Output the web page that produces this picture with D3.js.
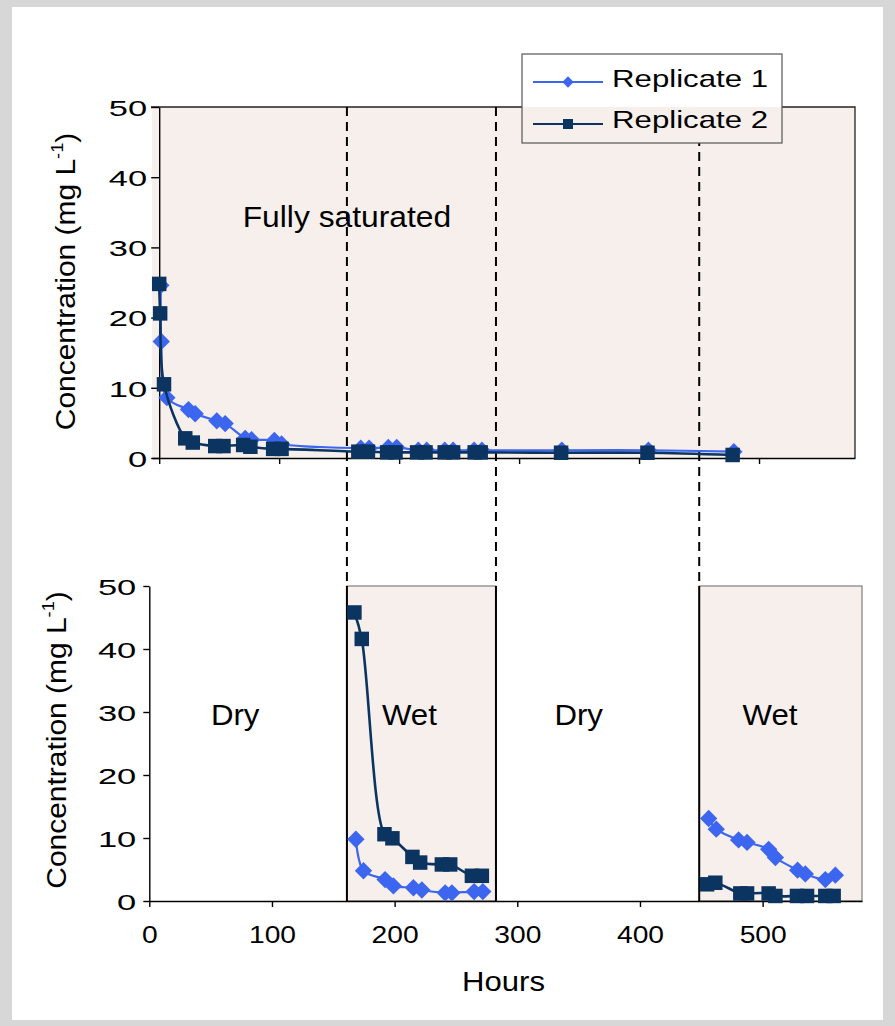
<!DOCTYPE html>
<html><head><meta charset="utf-8">
<script src="https://cdn.jsdelivr.net/npm/d3@7"></script>
<style>
html,body{margin:0;padding:0;background:#fff;}
text{font-family:"Liberation Sans",Arial,sans-serif;fill:#000;}
</style></head>
<body><svg id="c" width="895" height="1026"></svg>
<script>
// ---------- DATA ----------
const seriesNames = ["Replicate 1", "Replicate 2"];
const xTickValues = [0, 100, 200, 300, 400, 500];
const yTickValues = [0, 10, 20, 30, 40, 50];
const periodBounds = [161.1, 282.6, 448.3];     // hours: wet start, dry start, wet start
const periodLabels = ["Dry", "Wet", "Dry", "Wet"];
const periodLabelHours = [70, 212, 350, 506];
const topLabel = "Fully saturated";

// Top panel (fully saturated)
const topRep1Hours = [1.4, 1.7, 6.4, 24.4, 30, 48, 55, 71.7, 77, 96, 102, 168, 175, 191, 198, 216, 223, 238, 245, 262.5, 269, 335.6, 407.8, 479];
const topRep1Conc  = [24.6, 16.6, 8.6, 6.9, 6.3, 5.3, 4.9, 2.8, 2.6, 2.5, 2.0, 1.4, 1.4, 1.5, 1.5, 1.1, 1.1, 1.1, 1.1, 1.1, 1.1, 1.1, 1.1, 0.9];
const topRep2Hours = [0, 0.8, 4, 21.7, 28, 46.7, 53.6, 70, 76, 95, 102, 166, 174, 190, 197, 215, 222, 238, 245, 263, 268, 335, 407, 478];
const topRep2Conc  = [24.8, 20.6, 10.5, 2.8, 2.2, 1.7, 1.7, 1.85, 1.6, 1.3, 1.3, 0.9, 0.9, 0.8, 0.8, 0.8, 0.8, 0.8, 0.8, 0.8, 0.8, 0.75, 0.75, 0.43];

// Bottom panel, first wet period
const wet1Rep1Hours = [168.4, 174.6, 192.2, 199, 215.3, 222.2, 241.2, 246.7, 264.8, 271.9];
const wet1Rep1Conc  = [9.8, 4.8, 3.4, 2.4, 2.1, 1.75, 1.3, 1.3, 1.5, 1.5];
const wet1Rep2Hours = [167.2, 173.2, 191.7, 198.2, 214.5, 220.8, 238.5, 245.3, 263, 271.1];
const wet1Rep2Conc  = [45.8, 41.6, 10.6, 9.95, 7.0, 6.1, 5.8, 5.8, 4.0, 4.0];
// Bottom panel, second wet period
const wet2Rep1Hours = [456, 462.2, 480.4, 487.3, 504.9, 510.4, 528.5, 534.8, 551.1, 559.3];
const wet2Rep1Conc  = [13.1, 11.4, 9.7, 9.3, 8.2, 6.9, 4.9, 4.3, 3.4, 4.1];
const wet2Rep2Hours = [454.7, 461.4, 481.8, 487.3, 504.9, 510.4, 528, 536.2, 551.1, 557.9];
const wet2Rep2Conc  = [2.65, 2.9, 1.2, 1.2, 1.2, 0.8, 0.8, 0.8, 0.8, 0.8];

// ---------- STYLE ----------
const C1 = "#3d66f0", C2 = "#0c3461", PINK = "#f6efec";
const svg = d3.select("#c");

// textured frame
svg.append("rect").attr("width", 895).attr("height", 1026).attr("fill", "#d8d7d7");
svg.append("rect").attr("x", 12).attr("y", 7).attr("width", 871).attr("height", 1013).attr("fill", "#fff");

function stext(g, x, y, txt, fs, sx, anchor) {
  return g.append("text")
    .attr("transform", `translate(${x},${y}) scale(${sx},1)`)
    .attr("text-anchor", anchor || "middle")
    .style("font-size", fs + "px").text(txt);
}
const zip = (a, b) => a.map((d, i) => [d, b[i]]);

// ---------- SCALES ----------
const xTop = d3.scaleLinear().domain([-6, 580]).range([152, 855]);
const yTop = d3.scaleLinear().domain([0, 50]).range([458, 107]);
const xBot = d3.scaleLinear().domain([0, 581]).range([149.3, 862]);
const yBot = d3.scaleLinear().domain([0, 50]).range([901, 586]);

const curve = d3.curveCatmullRom.alpha(0.5);

// ---------- TOP PANEL ----------
svg.append("rect")
  .attr("x", xTop(-6)).attr("y", yTop(50))
  .attr("width", xTop(580) - xTop(-6)).attr("height", yTop(0) - yTop(50))
  .attr("fill", PINK);
svg.append("path")
  .attr("d", `M${xTop(-6) - 1},${yTop(50)}H${xTop(580)}V${yTop(0)}`)
  .attr("fill", "none").attr("stroke", "#222").attr("stroke-width", 1.3);

// ---------- BOTTOM PANEL background ----------
const wetRanges = [[periodBounds[0], periodBounds[1]], [periodBounds[2], 581]];
svg.selectAll(".wet").data(wetRanges).enter().append("rect")
  .attr("x", d => xBot(d[0])).attr("y", yBot(50))
  .attr("width", d => xBot(d[1]) - xBot(d[0])).attr("height", yBot(0) - yBot(50))
  .attr("fill", PINK).attr("stroke", "#666").attr("stroke-width", 1);

// dashed connectors
svg.selectAll(".dash").data(periodBounds).enter().append("line")
  .attr("x1", d => xBot(d)).attr("x2", d => xBot(d))
  .attr("y1", yTop(50)).attr("y2", yBot(50))
  .attr("stroke", "#000").attr("stroke-width", 2).attr("stroke-dasharray", "9,6");
// solid period boundaries in bottom panel
svg.selectAll(".solid").data(periodBounds).enter().append("line")
  .attr("x1", d => xBot(d)).attr("x2", d => xBot(d))
  .attr("y1", yBot(50)).attr("y2", yBot(0))
  .attr("stroke", "#000").attr("stroke-width", 2);

// ---------- AXES ----------
function styleAxis(g) {
  g.selectAll("path,line").attr("stroke", "#000").attr("stroke-width", 1.4);
  g.selectAll("text").style("font-family", '"Liberation Sans",Arial,sans-serif').attr("fill", "#000");
}
// top x axis (no labels)
const gxT = svg.append("g").attr("transform", `translate(0,${yTop(0)})`)
  .call(d3.axisBottom(xTop).tickValues(xTickValues).tickSize(6).tickSizeOuter(0).tickFormat(""));
styleAxis(gxT);
// top y axis
const YSX = 1.5;
const gyT = svg.append("g").attr("transform", `translate(${xTop(0)},0)`)
  .call(d3.axisLeft(yTop).tickValues(yTickValues).tickSize(8).tickSizeOuter(0));
styleAxis(gyT);
gyT.selectAll("text").style("font-size", "23px").attr("x", -12 / YSX).attr("dy", "0.36em")
  .attr("transform", `scale(${YSX},1)`);

// bottom x axis
const XSX = 1.2;
const gxB = svg.append("g").attr("transform", `translate(0,${yBot(0)})`)
  .call(d3.axisBottom(xBot).tickValues(xTickValues).tickSize(6).tickSizeOuter(0));
styleAxis(gxB);
gxB.selectAll("text").style("font-size", "23.5px").attr("y", 42).attr("dy", 0)
  .attr("transform", `scale(${XSX},1)`);
// bottom y axis
const gyB = svg.append("g").attr("transform", `translate(${xBot(0)},0)`)
  .call(d3.axisLeft(yBot).tickValues(yTickValues).tickSize(6).tickSizeOuter(0));
styleAxis(gyB);
gyB.selectAll("text").style("font-size", "23px").attr("x", -13 / YSX).attr("dy", "0.36em")
  .attr("transform", `scale(${YSX},1)`);

// ---------- SERIES ----------
function drawSeries(x, y, pts, color, kind, lw) {
  svg.append("path").datum(pts)
    .attr("d", d3.line().x(d => x(d[0])).y(d => y(d[1])).curve(curve))
    .attr("fill", "none").attr("stroke", color).attr("stroke-width", lw);
  const g = svg.append("g");
  g.selectAll("path").data(pts).enter().append("path")
    .attr("d", kind === "d" ? d3.symbol().type(d3.symbolSquare).size(150)() : d3.symbol().type(d3.symbolSquare).size(210)())
    .attr("transform", d => `translate(${x(d[0])},${y(d[1])})` + (kind === "d" ? " rotate(45)" : ""))
    .attr("fill", color);
}
drawSeries(xTop, yTop, zip(topRep1Hours, topRep1Conc), C1, "d", 2.2);
drawSeries(xTop, yTop, zip(topRep2Hours, topRep2Conc), C2, "s", 2.6);
drawSeries(xBot, yBot, zip(wet1Rep1Hours, wet1Rep1Conc), C1, "d", 2.2);
drawSeries(xBot, yBot, zip(wet1Rep2Hours, wet1Rep2Conc), C2, "s", 2.6);
drawSeries(xBot, yBot, zip(wet2Rep1Hours, wet2Rep1Conc), C1, "d", 2.2);
drawSeries(xBot, yBot, zip(wet2Rep2Hours, wet2Rep2Conc), C2, "s", 2.6);

// ---------- TEXT LABELS ----------
stext(svg, xBot(periodBounds[0]), 227, topLabel, 30, 1.06, "middle");
periodLabels.forEach((t, i) => stext(svg, xBot(periodLabelHours[i]), 725, t, 30, 1.04, "middle"));
stext(svg, 503.5, 991, "Hours", 28, 1.11, "middle");

function yTitle(cx, cy) {
  const t = svg.append("text")
    .attr("transform", `translate(${cx},${cy}) rotate(-90) scale(1.07,1)`)
    .attr("text-anchor", "middle").style("font-size", "28px");
  t.append("tspan").text("Concentration (mg L");
  t.append("tspan").attr("dy", -12).style("font-size", "17px").text("-1");
  t.append("tspan").attr("dy", 12).text(")");
}
yTitle(75, 281.5);
yTitle(66, 740);

// ---------- LEGEND ----------
const lg = svg.append("g");
lg.append("rect").attr("x", 522).attr("y", 54).attr("width", 260).attr("height", yTop(50) - 54).attr("fill", "#fff");
lg.append("rect").attr("x", 522).attr("y", yTop(50)).attr("width", 260).attr("height", 143 - yTop(50)).attr("fill", PINK);
lg.append("rect").attr("x", 522).attr("y", 54).attr("width", 260).attr("height", 89)
  .attr("fill", "none").attr("stroke", "#555").attr("stroke-width", 1.2);
const legY = [82, 124], legBase = [86.5, 128];
seriesNames.forEach((n, i) => {
  const col = i === 0 ? C1 : C2;
  lg.append("line").attr("x1", 533).attr("x2", 603).attr("y1", legY[i]).attr("y2", legY[i])
    .attr("stroke", col).attr("stroke-width", 2);
  lg.append("path")
    .attr("d", d3.symbol().type(d3.symbolSquare).size(i === 0 ? 64 : 100)())
    .attr("transform", `translate(568,${legY[i]})` + (i === 0 ? " rotate(45)" : ""))
    .attr("fill", col);
  stext(lg, 612, legBase[i], n, 24, 1.3, "start");
});
</script></body></html>
